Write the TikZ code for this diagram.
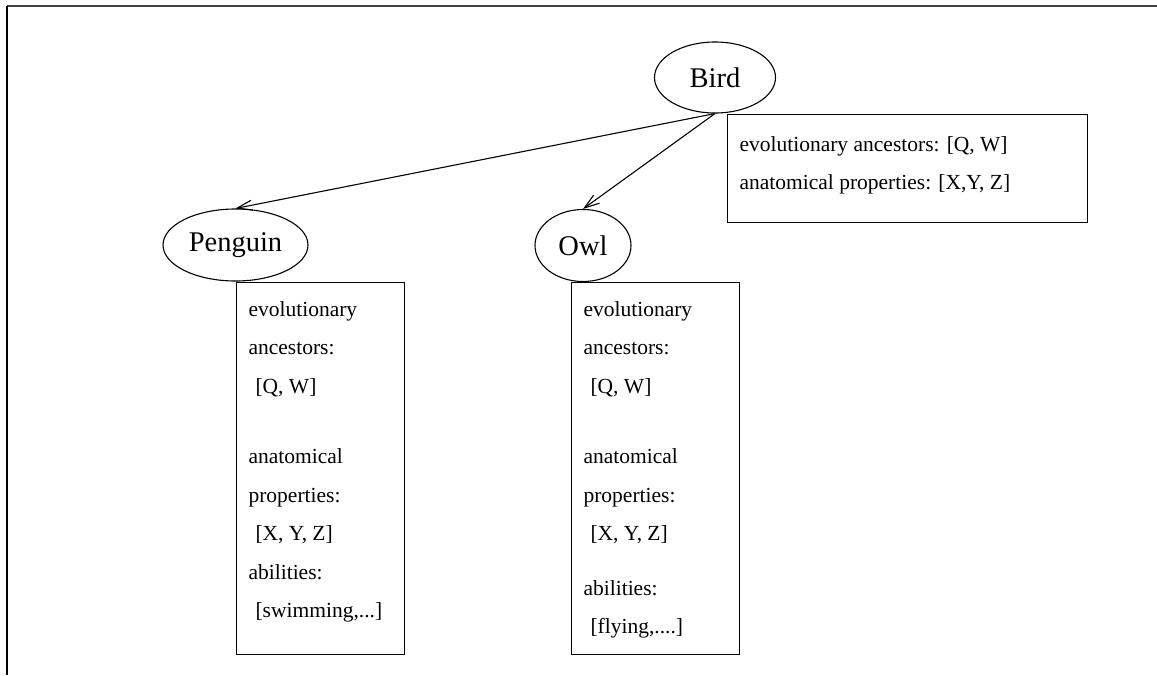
\documentclass[tikz,border=0pt]{standalone}
\usepackage{fontspec}
\setmainfont{Liberation Serif}
\usetikzlibrary{arrows.meta,shapes.geometric}
\begin{document}
\begin{tikzpicture}[x=1pt,y=-1pt,
  line width=1.1pt,
  concept/.style={draw, ellipse, inner sep=0pt, font=\fontsize{28.5}{30}\selectfont},
  infobox/.style={draw, rectangle, inner sep=0pt, anchor=north west},
  infotext/.style={anchor=north west, inner sep=0pt, align=left,
    font=\fontsize{21.5}{38.5}\selectfont},
  isa/.style={-{Straight Barb[length=15pt,width=10pt,line width=1.1pt]}, line width=1.1pt}]
\useasboundingbox (0,0) rectangle (1157,675);

% outer frame (top and left edges only)
\draw[line width=2pt, black!75] (7,5.5) -- (1157,5.5);
\draw[line width=2pt] (7,5.5) -- (7,675);

% concepts
\node[concept, minimum width=121pt, minimum height=71pt] (bird) at (715,77.5) {Bird};
\node[concept, minimum width=145pt, minimum height=72pt] (penguin) at (235.5,245) {Penguin};
\node[concept, minimum width=96pt, minimum height=72pt] (owl) at (583,245.5) {Owl};

% is-a links
\draw[isa] (bird.south) -- (penguin.north);
\draw[isa] (bird.south) -- (owl.north);

% property boxes
\node[infobox, minimum width=360pt, minimum height=108pt] (birdbox) at (727,114) {};
\node[infotext] (birdtxt) at (739,136) {evolutionary ancestors: [Q, W]\\anatomical properties: [X,Y, Z]};

\node[infobox, minimum width=168pt, minimum height=372pt] (penguinbox) at (236,282) {};
\node[infotext] (penguintxt) at (248,301) {evolutionary\\ancestors:\\\hspace*{7pt}[Q, W]\\[32pt]anatomical\\properties:\\\hspace*{7pt}[X, Y, Z]\\abilities:\\\hspace*{7pt}[swimming,...]};

\node[infobox, minimum width=168pt, minimum height=372pt] (owlbox) at (571,282) {};
\node[infotext] (owltxt) at (583,301) {evolutionary\\ancestors:\\\hspace*{7pt}[Q, W]\\[32pt]anatomical\\properties:\\\hspace*{7pt}[X, Y, Z]\\[16pt]abilities:\\\hspace*{7pt}[flying,....]};
\end{tikzpicture}
\end{document}
